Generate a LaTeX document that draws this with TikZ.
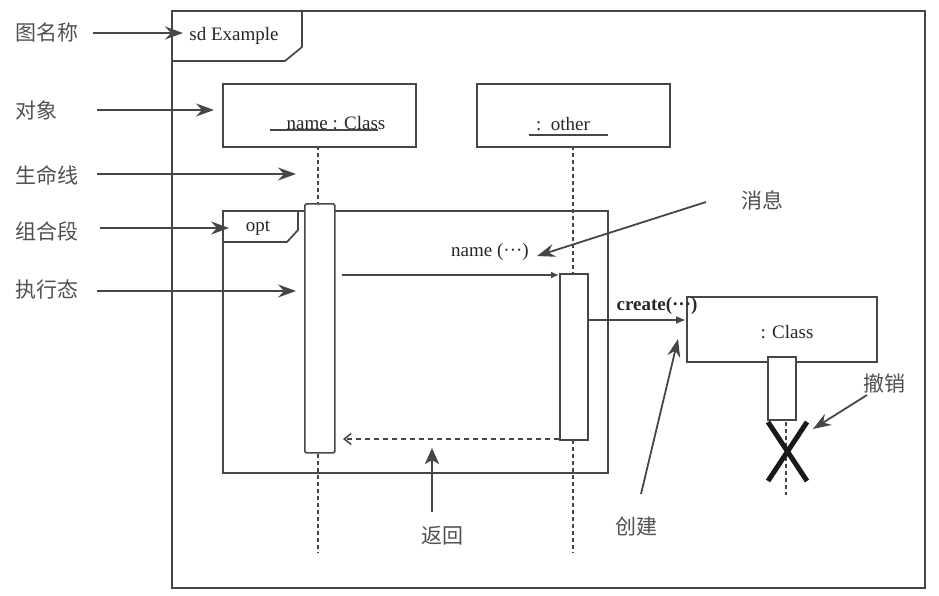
\documentclass[tikz,border=0pt]{standalone}
\usepackage{fontspec}
\setmainfont{Liberation Serif}
\newfontfamily\cjk{Noto Sans CJK SC}
\usetikzlibrary{arrows.meta}
\definecolor{lc}{RGB}{70,70,70}
\definecolor{tc}{RGB}{80,80,80}
\begin{document}
\begin{tikzpicture}[x=1pt,y=-1pt,
  ln/.style={draw=lc, line width=1.7pt},
  boxnode/.style={draw=lc, line width=1.7pt, rectangle, inner sep=0pt, anchor=north west},
  actbox/.style={draw=lc, line width=1.7pt, rectangle, inner sep=0pt, anchor=north west, fill=white, rounded corners=1.5pt},
  txt/.style={inner sep=0pt, text=black!85, font=\fontsize{19}{22}\selectfont},
  cjklbl/.style={inner sep=0pt, text=tc, font=\cjk\fontsize{21}{24}\selectfont},
  ann/.style={draw=lc, line width=1.8pt, -{Stealth[length=18pt,width=13pt,inset=6pt]}},
  lifeline/.style={draw=lc, line width=1.5pt, dash pattern=on 4pt off 3pt},
  msg/.style={draw=lc, line width=1.6pt, -{Latex[length=8pt,width=7pt]}},
  ret/.style={draw=lc, line width=1.5pt, dash pattern=on 5pt off 4pt, -{Straight Barb[length=7pt,width=11pt]}}
]
\useasboundingbox (0,0) rectangle (939,596);

% outer frame
\node[boxnode, line width=2.2pt, minimum width=753pt, minimum height=577pt] (frame) at (171,10) {};
\draw[ln] (302,10) -- (302,47) -- (285,61) -- (171,61);
\node[txt] (sdname) at (234,36) {sd Example};

% objects
\node[boxnode, minimum width=193pt, minimum height=63pt] (obj1) at (222,83) {};
\node[txt] (obj1t) at (336,123) {name : Class};
\draw[ln, line width=1.3pt] (270,130) -- (378,130);
\node[boxnode, minimum width=193pt, minimum height=63pt] (obj2) at (476,83) {};
\node[txt] (obj2t) at (563,124) {:\ \ other};
\draw[ln, line width=1.3pt] (529,135) -- (608,135);

% lifelines
\coordinate (l1top) at (318,146);
\coordinate (l1bot) at (318,553);
\coordinate (l2top) at (573,146);
\coordinate (l2bot) at (573,553);
\draw[lifeline] (l1top) -- (l1bot);
\draw[lifeline] (l2top) -- (l2bot);

% opt fragment
\node[boxnode, minimum width=385pt, minimum height=262pt] (opt) at (222,210) {};
\draw[ln] (298,210) -- (298,230) -- (287,242) -- (222,242);
\node[txt] (optt) at (258,228) {opt};

% activations
\node[actbox, minimum width=30pt, minimum height=249pt] (act1) at (304,203) {};
\node[actbox, minimum width=28pt, minimum height=166pt, rounded corners=0pt] (act2) at (559,273) {};

% message
\coordinate (m1s) at (342,275);
\coordinate (m1e) at (559,275);
\draw[msg] (m1s) -- (m1e);
\node[txt] (m1t) at (490,252) {name (···)};

% return
\coordinate (r1s) at (559,439);
\coordinate (r1e) at (343,439);
\draw[ret] (r1s) -- (r1e);

% create
\node[boxnode, minimum width=190pt, minimum height=65pt] (cls) at (686,296) {};
\node[txt] (clst) at (787,332) {: Class};
\coordinate (c1s) at (587,320);
\draw[msg, -{Latex[length=10pt,width=8pt]}] (c1s) -- (cls.west |- c1s);
\node[txt, font=\bfseries\fontsize{19}{22}\selectfont] (c1t) at (657,306) {create(···)};

% activation 3 and destruction
\node[actbox, minimum width=28pt, minimum height=63pt, rounded corners=0pt] (act3) at (767,356) {};
\coordinate (l3top) at (786,422);
\coordinate (l3bot) at (786,495);
\draw[lifeline] (l3top) -- (l3bot);
\coordinate (xa) at (768,422);
\coordinate (xb) at (807,481);
\coordinate (xc) at (807,422);
\coordinate (xd) at (768,481);
\draw[line width=5pt, black!90] (xa) -- (xb);
\draw[line width=5pt, black!90] (xc) -- (xd);

% left labels
\node[cjklbl] (lab1) at (47,33) {图名称};
\node[cjklbl] (lab2) at (37,110) {对象};
\node[cjklbl] (lab3) at (47,175) {生命线};
\node[cjklbl] (lab4) at (47,231) {组合段};
\node[cjklbl] (lab5) at (47,290) {执行态};
\coordinate (a1) at (183,33);
\coordinate (a2) at (214,110);
\coordinate (a3) at (296,174);
\coordinate (a4) at (229,228);
\coordinate (a5) at (296,291);
\draw[ann] (93,33) -- (a1);
\draw[ann] (97,110) -- (a2);
\draw[ann] (97,174) -- (a3);
\draw[ann] (100,228) -- (a4);
\draw[ann] (97,291) -- (a5);

% right labels
\node[cjklbl] (lab6) at (762,200) {消息};
\coordinate (a6s) at (706,202);
\coordinate (a6e) at (537,256);
\draw[ann] (a6s) -- (a6e);

\node[cjklbl] (lab7) at (884,383) {撤销};
\coordinate (a7s) at (867,395);
\coordinate (a7e) at (813,429);
\draw[ann] (a7s) -- (a7e);

\node[cjklbl] (lab8) at (442,536) {返回};
\coordinate (a8s) at (432,512);
\coordinate (a8e) at (432,448);
\draw[ann, -{Stealth[length=16pt,width=14pt,inset=4pt]}, line width=2.5pt] (a8s) -- (a8e);

\node[cjklbl] (lab9) at (636,527) {创建};
\coordinate (a9s) at (641,494);
\coordinate (a9e) at (678,339);
\draw[ann] (a9s) -- (a9e);
\end{tikzpicture}
\end{document}
